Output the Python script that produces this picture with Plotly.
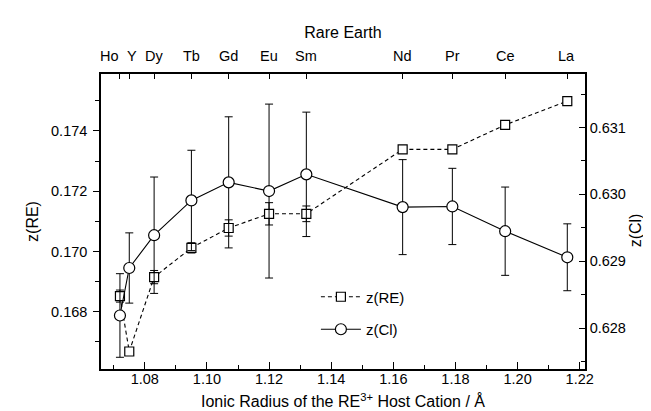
import plotly.graph_objects as go

# ---- data ----
elements = ["Ho", "Y", "Dy", "Tb", "Gd", "Eu", "Sm", "Nd", "Pr", "Ce", "La"]
radius = [1.072, 1.075, 1.083, 1.095, 1.107, 1.120, 1.132, 1.163, 1.179, 1.196, 1.216]
label_shift = [-10, 3, 0, 0, 0, 0, 0, 0, 0, 0, -1]
z_re = [0.16852, 0.16668, 0.16915, 0.17012, 0.17078, 0.17125, 0.17125, 0.17339, 0.17339, 0.17420, 0.17499]
z_re_err = [0.00020, 0.00010, 0.00022, 0.00017, 0.00027, 0.00037, 0.00026, 0.00010, 0.00005, 0.00008, 0.00005]
z_cl = [0.62819, 0.62890, 0.62939, 0.62991, 0.63018, 0.63005, 0.63030, 0.62981, 0.62982, 0.62945, 0.62906]
z_cl_err = [0.000625, 0.000525, 0.00087, 0.00075, 0.00098, 0.00130, 0.00093, 0.00071, 0.00057, 0.00066, 0.00050]

FONT = "Liberation Sans, Arial, sans-serif"
X_RANGE = [1.0659, 1.2217]

fig = go.Figure()

fig.add_trace(go.Scatter(
    x=radius, y=z_re, name="z(RE)", mode="lines+markers",
    line=dict(color="black", width=1.1, dash="4px,3px"),
    marker=dict(symbol="square", size=9, color="white", line=dict(color="black", width=1.2)),
    error_y=dict(type="data", array=z_re_err, visible=True, color="black", thickness=1, width=4),
    legendgroup="a", yaxis="y", xaxis="x",
))
fig.add_trace(go.Scatter(
    x=radius, y=z_cl, name="z(Cl)", mode="lines+markers",
    line=dict(color="black", width=1.1),
    marker=dict(symbol="circle", size=11, color="white", line=dict(color="black", width=1.2)),
    error_y=dict(type="data", array=z_cl_err, visible=True, color="black", thickness=1, width=4),
    legendgroup="b", yaxis="y2", xaxis="x",
))
# invisible trace to activate top axis
fig.add_trace(go.Scatter(x=radius, y=z_re, xaxis="x2", yaxis="y", mode="markers",
                         marker=dict(opacity=0), showlegend=False, hoverinfo="skip"))

tickfont = dict(family=FONT, size=14.5, color="black")
titlefont = dict(family=FONT, size=16, color="black")

# element names above the top axis
for r, el, dx in zip(radius, elements, label_shift):
    fig.add_annotation(x=r, xref="x", y=1, yref="paper", yanchor="bottom",
                       yshift=8, xshift=dx, text=el, showarrow=False, font=tickfont)

# right axis title, reading bottom-to-top like the reference
fig.add_annotation(x=1.0, xref="paper", y=0.47, yref="paper", text="z(Cl)",
                   textangle=-90, showarrow=False, font=titlefont,
                   xanchor="center", yanchor="middle", xshift=50)

fig.update_layout(
    width=651, height=411,
    margin=dict(l=93, r=74, t=65.5, b=49.5),
    paper_bgcolor="white", plot_bgcolor="white",
    font=dict(family=FONT, color="black"),
    xaxis=dict(
        range=X_RANGE, dtick=0.02, tick0=1.0, tickformat=".2f",
        ticks="inside", ticklen=7, tickwidth=1, tickcolor="black",
        minor=dict(dtick=0.01, ticks="inside", ticklen=4, tickcolor="black"),
        showline=True, linecolor="black", linewidth=1.5, showgrid=False, zeroline=False,
        tickfont=tickfont, ticklabelstandoff=-4,
        title=dict(text="Ionic Radius of the RE<sup>3+</sup> Host Cation / Å", font=titlefont, standoff=10),
    ),
    xaxis2=dict(
        range=X_RANGE, overlaying="x", side="top", anchor="y",
        tickmode="array", tickvals=radius, showticklabels=False,
        ticks="inside", ticklen=5, tickcolor="black",
        showline=True, linecolor="black", linewidth=1.5, showgrid=False, zeroline=False,
        tickfont=tickfont,
        title=dict(text="Rare Earth", font=titlefont, standoff=30),
    ),
    yaxis=dict(
        range=[0.1661, 0.17589], dtick=0.002, tick0=0, tickformat=".3f",
        ticks="outside", ticklen=6, tickcolor="black",
        minor=dict(dtick=0.001, ticks="outside", ticklen=4, tickcolor="black"),
        showline=True, linecolor="black", linewidth=1.5, showgrid=False, zeroline=False,
        tickfont=tickfont, ticklabelstandoff=3,
        title=dict(text="z(RE)", font=titlefont, standoff=8),
    ),
    yaxis2=dict(
        range=[0.62739, 0.6318], dtick=0.001, tick0=0, tickformat=".3f",
        overlaying="y", side="right", anchor="x",
        ticks="inside", ticklen=6, tickcolor="black",
        minor=dict(dtick=0.0005, ticks="inside", ticklen=4, tickcolor="black"),
        showline=True, linecolor="black", linewidth=1.5, showgrid=False, zeroline=False,
        tickfont=tickfont,
    ),
    legend=dict(
        x=0.444, y=0.30, xanchor="left", yanchor="top",
        bgcolor="rgba(0,0,0,0)", font=dict(family=FONT, size=15, color="black"),
        tracegroupgap=10, itemwidth=40,
    ),
)

fig.write_html("out.html")
